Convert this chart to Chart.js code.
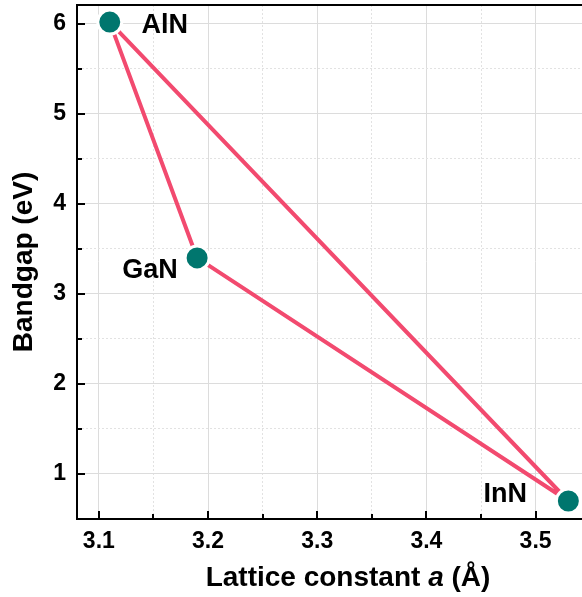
<!DOCTYPE html>
<html>
<head>
<meta charset="utf-8">
<script src="https://cdn.jsdelivr.net/npm/chart.js@4"></script>
<style>
html,body{margin:0;padding:0;background:#fff;}
#wrap{width:582px;height:597px;}
</style>
</head>
<body>
<div id="wrap"><canvas id="bandgapChart"></canvas></div>
<script>
var materials=['AlN','GaN','InN'];
var latticeA=[3.11,3.19,3.53];
var bandgap=[6.02,3.40,0.70];
var xTickLabels=[3.1,3.2,3.3,3.4,3.5];
var yTickLabels=[1,2,3,4,5,6];
// triangle: AlN -> GaN -> InN -> AlN
var edges=[0,1,2,0];

var FONT='Arial, "Liberation Sans", sans-serif';
var lineColor='#F24A6F';
var dotColor='#00766E';

function isMajor(v,list){
    for(var i=0;i<list.length;i++){
        if(Math.abs(v-list[i])<1e-6) return true;
    }
    return false;
}
// major ticks from the label lists, minor ones half way between
function buildTicks(list,min,max){
    var step=list[1]-list[0];
    var out=[];
    for(var i=0;i<list.length;i++){
        var half=list[i]-step/2;
        if(half>min+1e-6) out.push({value:half});
        out.push({value:list[i]});
    }
    var last=list[list.length-1]+step/2;
    if(last<max-1e-6) out.push({value:last});
    return out;
}

var pointData=[];
for(var i=0;i<materials.length;i++){
    pointData.push({x:latticeA[i],y:bandgap[i]});
}
var lineData=[];
for(var j=0;j<edges.length;j++){
    lineData.push({x:latticeA[edges[j]],y:bandgap[edges[j]]});
}

var labelOffsets={AlN:[55,3],GaN:[-47,13],InN:[-63,-6]};

var decorations={
    id:'decorations',
    afterDraw:function(chart){
        var ctx=chart.ctx;
        var a=chart.chartArea;
        var xs=chart.scales.x;
        var ys=chart.scales.y;
        ctx.save();
        ctx.strokeStyle='#000';
        ctx.lineWidth=2;
        ctx.beginPath();
        ctx.moveTo(a.left-1,a.top);
        ctx.lineTo(a.right,a.top);
        // inward ticks
        xs.ticks.forEach(function(t){
            var px=Math.round(xs.getPixelForValue(t.value));
            var len=isMajor(t.value,xTickLabels)?8:5;
            ctx.moveTo(px,a.bottom);
            ctx.lineTo(px,a.bottom-len);
        });
        ys.ticks.forEach(function(t){
            var py=Math.round(ys.getPixelForValue(t.value));
            var len=isMajor(t.value,yTickLabels)?8:5;
            ctx.moveTo(a.left,py);
            ctx.lineTo(a.left+len,py);
        });
        ctx.stroke();

        // material labels
        ctx.fillStyle='#000';
        ctx.font='bold 27px '+FONT;
        ctx.textAlign='center';
        ctx.textBaseline='middle';
        for(var i=0;i<materials.length;i++){
            var off=labelOffsets[materials[i]];
            ctx.fillText(materials[i],xs.getPixelForValue(latticeA[i])+off[0],ys.getPixelForValue(bandgap[i])+off[1]);
        }

        // y title
        ctx.save();
        ctx.translate(24,(a.top+a.bottom)/2);
        ctx.rotate(-Math.PI/2);
        ctx.font='bold 28px '+FONT;
        ctx.fillText('Bandgap (eV)',0,0);
        ctx.restore();

        // x title, with italic a
        var parts=[['Lattice constant ','bold 28px '+FONT],['a','italic bold 28px '+FONT],[' (\u00C5)','bold 28px '+FONT]];
        var total=0;
        parts.forEach(function(p){ctx.font=p[1];total+=ctx.measureText(p[0]).width;});
        var x=a.left+271-total/2;
        ctx.textAlign='left';
        parts.forEach(function(p){
            ctx.font=p[1];
            ctx.fillText(p[0],x,578);
            x+=ctx.measureText(p[0]).width;
        });
        ctx.restore();
    }
};

var xMin=3.08, xMax=3.5425, yMin=0.5, yMax=6.21;

new Chart(document.getElementById('bandgapChart'),{
    type:'scatter',
    data:{
        datasets:[{
            label:'edges',
            data:lineData,
            showLine:true,
            borderColor:lineColor,
            borderWidth:4,
            borderJoinStyle:'round',
            borderCapStyle:'round',
            pointRadius:0,
            fill:false,
            order:2
        },{
            label:'materials',
            data:pointData,
            backgroundColor:dotColor,
            borderColor:'#fff',
            borderWidth:3,
            pointRadius:12,
            pointHoverRadius:12,
            clip:false,
            order:1
        }]
    },
    options:{
        responsive:true,
        maintainAspectRatio:false,
        animation:false,
        layout:{autoPadding:false,padding:{top:5,right:0,left:0,bottom:0}},
        plugins:{legend:{display:false},tooltip:{enabled:false}},
        scales:{
            x:{
                type:'linear',
                min:xMin,
                max:xMax,
                afterBuildTicks:function(s){s.ticks=buildTicks(xTickLabels,xMin,xMax);},
                afterFit:function(s){s.height=78;s.paddingLeft=0;s.paddingRight=0;},
                ticks:{
                    color:'#000',
                    padding:9,
                    maxRotation:0,
                    autoSkip:false,
                    font:{family:FONT,size:23,weight:'bold'},
                    callback:function(v){return isMajor(v,xTickLabels)?v.toFixed(1):'';}
                },
                grid:{
                    drawTicks:false,
                    color:function(c){return c.tick&&isMajor(c.tick.value,xTickLabels)?'#dcdcdc':'#e2e2e2';}
                },
                border:{
                    display:true,color:'#000',width:2,
                    dash:function(c){return c.tick&&!isMajor(c.tick.value,xTickLabels)?[2,2]:[];}
                }
            },
            y:{
                type:'linear',
                min:yMin,
                max:yMax,
                afterBuildTicks:function(s){s.ticks=buildTicks(yTickLabels,yMin,yMax);},
                afterFit:function(s){s.width=77;s.paddingTop=0;s.paddingBottom=0;},
                ticks:{
                    color:'#000',
                    padding:11,
                    autoSkip:false,
                    font:{family:FONT,size:23,weight:'bold'},
                    callback:function(v){return isMajor(v,yTickLabels)?String(v):'';}
                },
                grid:{
                    drawTicks:false,
                    color:function(c){return c.tick&&isMajor(c.tick.value,yTickLabels)?'#dcdcdc':'#e2e2e2';}
                },
                border:{
                    display:true,color:'#000',width:2,
                    dash:function(c){return c.tick&&!isMajor(c.tick.value,yTickLabels)?[2,2]:[];}
                }
            }
        }
    },
    plugins:[decorations]
});
</script>
</body>
</html>
